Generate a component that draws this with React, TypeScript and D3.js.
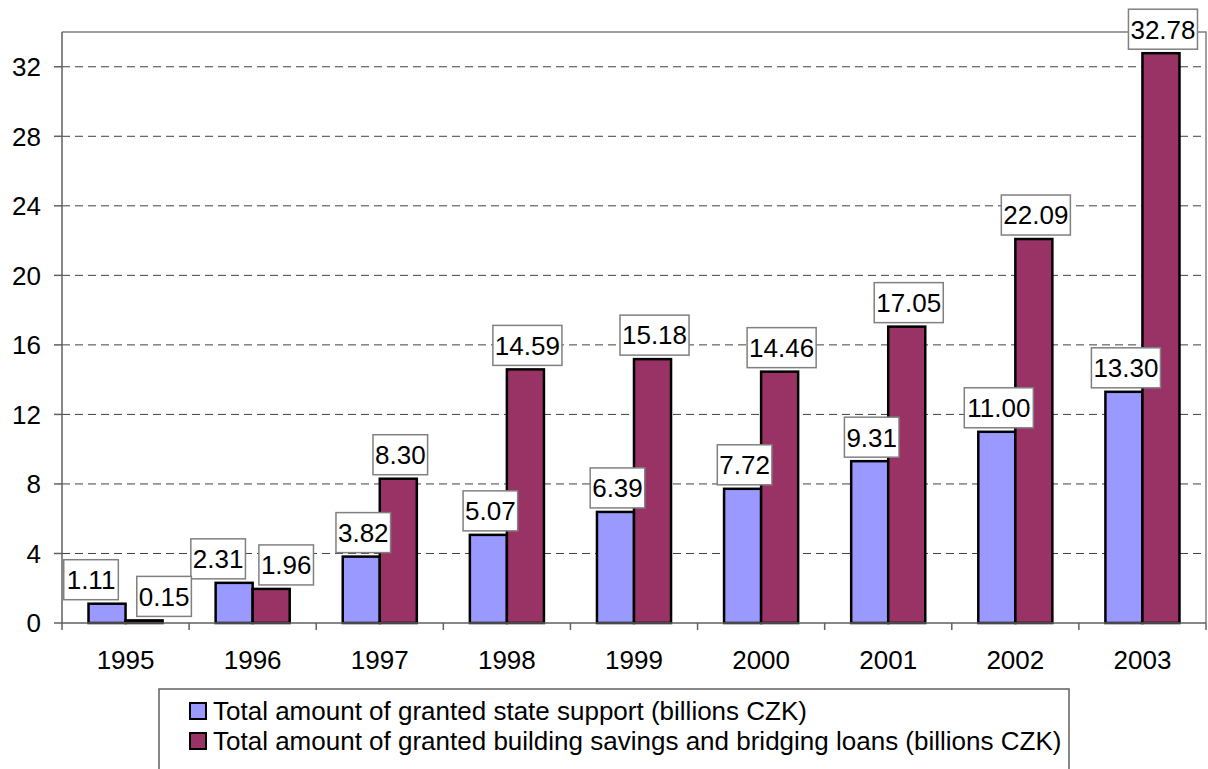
import React, { useRef, useEffect } from "react"
import * as d3 from "d3"

// chart data
const years = ["1995", "1996", "1997", "1998", "1999", "2000", "2001", "2002", "2003"]
const stateSupport = [1.11, 2.31, 3.82, 5.07, 6.39, 7.72, 9.31, 11.0, 13.3]
const loans = [0.15, 1.96, 8.3, 14.59, 15.18, 14.46, 17.05, 22.09, 32.78]
const yTicks = [0, 4, 8, 12, 16, 20, 24, 28, 32]
const seriesNames = [
  "Total amount of granted state support (billions CZK)",
  "Total amount of granted building savings and bridging loans (billions CZK)",
]
const seriesColors = ["#9999FF", "#993366"]

// labels that were moved by hand in the original (px, per year index)
const labelNudge: { [key: string]: number } = { "0-0": -18, "1-0": 18, "0-1": -18, "1-1": 13 }

const W = 1208
const H = 769
const margin = { top: 32, right: 2, bottom: 146, left: 62 }
const FONT = "Liberation Sans, Arial, sans-serif"
const FS = 26

const App: React.FC = () => {
  const svgRef = useRef<SVGSVGElement>(null)

  useEffect(() => {
    if (!svgRef.current) return
    const svg = d3.select(svgRef.current)
    svg.selectAll("*").remove()

    const x0 = margin.left
    const x1 = W - margin.right
    const yBottom = H - margin.bottom
    const yTop = margin.top

    const x = d3.scaleBand<string>().domain(years).range([x0, x1]).padding(0)
    const xs = d3.scaleBand<number>().domain([0, 1]).range([0, x.bandwidth()]).paddingInner(0).paddingOuter(0.716)
    const y = d3.scaleLinear().domain([0, 34]).range([yBottom, yTop])

    // gridlines
    svg.append("g")
      .selectAll("line")
      .data(yTicks.filter(d => d > 0))
      .enter().append("line")
      .attr("x1", x0).attr("x2", x1)
      .attr("y1", d => y(d)).attr("y2", d => y(d))
      .attr("stroke", "#404040")
      .attr("stroke-width", 1)
      .attr("stroke-dasharray", "8,5")

    // plot border (top / right)
    svg.append("path")
      .attr("d", `M${x0},${yTop}H${x1}V${yBottom}`)
      .attr("fill", "none")
      .attr("stroke", "#808080")
      .attr("stroke-width", 1.5)

    // bars
    const series = [stateSupport, loans]
    series.forEach((vals, si) => {
      svg.append("g")
        .selectAll("rect")
        .data(vals)
        .enter().append("rect")
        .attr("x", (d, i) => (x(years[i]) as number) + (xs(si) as number))
        .attr("y", d => y(d))
        .attr("width", xs.bandwidth())
        .attr("height", d => yBottom - y(d))
        .attr("fill", seriesColors[si])
        .attr("stroke", "#000")
        .attr("stroke-width", 2.5)
    })

    // axes
    const yAxis = svg.append("g")
    yAxis.append("line")
      .attr("x1", x0).attr("x2", x0).attr("y1", yTop).attr("y2", yBottom)
      .attr("stroke", "#606060").attr("stroke-width", 1.5)
    yAxis.selectAll("line.tick")
      .data(yTicks)
      .enter().append("line")
      .attr("class", "tick")
      .attr("x1", x0 - 8).attr("x2", x0)
      .attr("y1", d => y(d)).attr("y2", d => y(d))
      .attr("stroke", "#606060").attr("stroke-width", 1.5)
    yAxis.selectAll("text")
      .data(yTicks)
      .enter().append("text")
      .attr("x", x0 - 21)
      .attr("y", d => y(d))
      .attr("dy", "0.36em")
      .attr("text-anchor", "end")
      .attr("font-family", FONT)
      .attr("font-size", FS)
      .text(d => d)

    const xAxis = svg.append("g")
    xAxis.append("line")
      .attr("x1", x0).attr("x2", x1).attr("y1", yBottom).attr("y2", yBottom)
      .attr("stroke", "#606060").attr("stroke-width", 1.5)
    xAxis.selectAll("line.tick")
      .data(years.concat(["end"]))
      .enter().append("line")
      .attr("class", "tick")
      .attr("x1", (d, i) => x0 + i * x.step())
      .attr("x2", (d, i) => x0 + i * x.step())
      .attr("y1", yBottom).attr("y2", yBottom + 7)
      .attr("stroke", "#606060").attr("stroke-width", 1.5)
    xAxis.selectAll("text")
      .data(years)
      .enter().append("text")
      .attr("x", d => (x(d) as number) + x.bandwidth() / 2)
      .attr("y", yBottom + 37)
      .attr("dy", "0.36em")
      .attr("text-anchor", "middle")
      .attr("font-family", FONT)
      .attr("font-size", FS)
      .text(d => d)

    // data labels
    const labels = svg.append("g")
    series.forEach((vals, si) => {
      vals.forEach((v, i) => {
        const txt = v.toFixed(2)
        const tw = txt.replace(".", "").length * 0.556 * FS + 0.278 * FS
        const bw = tw + 4
        const bh = 40
        const cx = (x(years[i]) as number) + (xs(si) as number) + xs.bandwidth() / 2 + 2 + (labelNudge[`${si}-${i}`] || 0)
        const bottom = y(v) - 4
        labels.append("rect")
          .attr("x", cx - bw / 2)
          .attr("y", bottom - bh)
          .attr("width", bw)
          .attr("height", bh)
          .attr("fill", "#fff")
          .attr("stroke", "#808080")
          .attr("stroke-width", 1.5)
        labels.append("text")
          .attr("x", cx)
          .attr("y", bottom - bh / 2)
          .attr("dy", "0.36em")
          .attr("text-anchor", "middle")
          .attr("font-family", FONT)
          .attr("font-size", FS)
          .text(txt)
      })
    })

    // legend
    const leg = svg.append("g")
    leg.append("rect")
      .attr("x", 159).attr("y", 689)
      .attr("width", 1069 - 159).attr("height", 100)
      .attr("fill", "#fff")
      .attr("stroke", "#606060")
      .attr("stroke-width", 1.5)
    seriesNames.forEach((name, si) => {
      const cy = 711 + si * 30
      leg.append("rect")
        .attr("x", 190).attr("y", cy - 8)
        .attr("width", 16).attr("height", 16)
        .attr("fill", seriesColors[si])
        .attr("stroke", "#000")
        .attr("stroke-width", 2)
      leg.append("text")
        .attr("x", 213)
        .attr("y", cy)
        .attr("dy", "0.36em")
        .attr("font-family", FONT)
        .attr("font-size", FS)
        .text(name)
    })
  }, [])

  return (
    <svg ref={svgRef} width={W} height={H}
      style={{ position: "absolute", left: 0, top: 0, background: "#fff", display: "block" }} />
  )
}

export default App
